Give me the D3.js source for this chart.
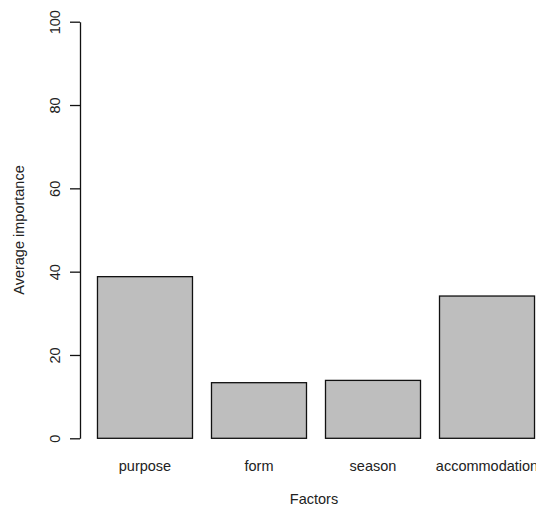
<!DOCTYPE html>
<html>
<head>
<meta charset="utf-8">
<script src="https://cdn.jsdelivr.net/npm/d3@7"></script>
<style>
  body { margin: 0; background: #fff; }
  svg { display: block; }
  text { font-family: "Liberation Sans", Arial, sans-serif; fill: #222; }
</style>
</head>
<body>
<div id="chart"></div>
<script>
var factors = ['purpose', 'form', 'season', 'accommodation'];
var importance = [38.8, 13.35, 13.9, 34.15];
var yTicks = [0, 20, 40, 60, 80, 100];

var width = 536, height = 506;
var fontSize = 14.5;

var svg = d3.select('#chart').append('svg')
    .attr('width', width)
    .attr('height', height);

// R barplot style: width 1, space 0.2, x axis in bar units
var xScale = d3.scaleLinear().domain([0.016, 4.984]).range([80, 552]);
var yScale = d3.scaleLinear().domain([0, 100]).range([438.3, 21.7]);

var bars = factors.map(function(f, i) {
    return { name: f, value: importance[i], left: 0.2 + 1.2 * i };
});

svg.append('g').selectAll('rect')
    .data(bars)
    .enter().append('rect')
    .attr('x', function(d) { return xScale(d.left); })
    .attr('y', function(d) { return yScale(d.value); })
    .attr('width', function(d) { return xScale(d.left + 1) - xScale(d.left); })
    .attr('height', function(d) { return yScale(0) - yScale(d.value); })
    .style('fill', '#bebebe')
    .style('stroke', '#111')
    .style('stroke-width', '1.3px');

// y axis
var yAxis = svg.append('g')
    .attr('transform', 'translate(80,0)')
    .call(d3.axisLeft(yScale).tickValues(yTicks).tickSize(10).tickSizeOuter(0));
yAxis.select('.domain').style('stroke', '#111').style('stroke-width', '1.3px');
yAxis.selectAll('.tick line').style('stroke', '#111').style('stroke-width', '1.3px');
yAxis.selectAll('.tick text')
    .attr('x', 0).attr('y', 0).attr('dy', null)
    .attr('transform', 'translate(-20,0) rotate(-90)')
    .attr('text-anchor', 'middle')
    .style('font-size', fontSize + 'px')
    .style('font-family', '"Liberation Sans", Arial, sans-serif')
    .style('fill', '#222');

// category labels under bars
svg.append('g').selectAll('text')
    .data(bars)
    .enter().append('text')
    .attr('x', function(d) { return xScale(d.left + 0.5); })
    .attr('y', 471)
    .attr('text-anchor', 'middle')
    .style('font-size', fontSize + 'px')
    .text(function(d) { return d.name; });

svg.append('text')
    .attr('x', 314)
    .attr('y', 504)
    .attr('text-anchor', 'middle')
    .style('font-size', fontSize + 'px')
    .text('Factors');

svg.append('text')
    .attr('transform', 'translate(24,' + ((yScale(0) + yScale(100)) / 2) + ') rotate(-90)')
    .attr('text-anchor', 'middle')
    .style('font-size', fontSize + 'px')
    .text('Average importance');
</script>
</body>
</html>
